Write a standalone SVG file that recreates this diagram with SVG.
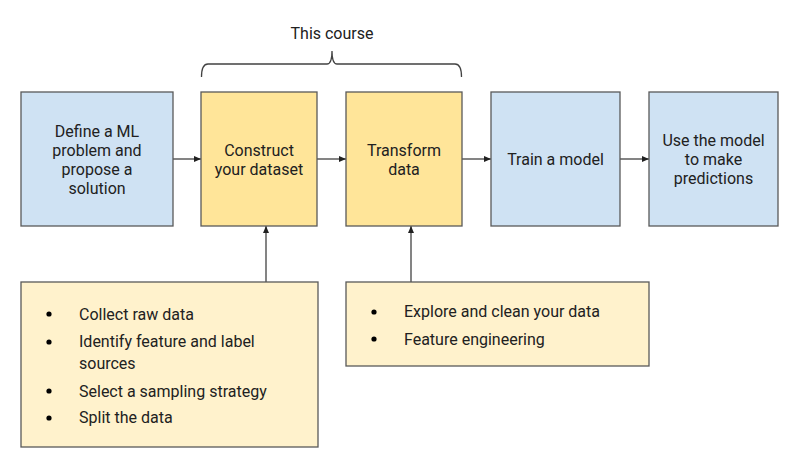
<svg xmlns="http://www.w3.org/2000/svg" width="792" height="456" viewBox="0 0 792 456">
<style>
text{font-family:Roboto,"Liberation Sans",sans-serif;font-size:16px;fill:#212121}
.c{text-anchor:middle}
.box{stroke:#595959;stroke-width:1.3}
.blue{fill:#cfe2f3}
.yel{fill:#ffe599}
.lt{fill:#fff2cc}
.ln{stroke:#424242;stroke-width:1.3;fill:none}
</style>
<defs>
<marker id="ah" markerWidth="8" markerHeight="6" refX="7" refY="3" orient="auto" markerUnits="userSpaceOnUse">
<path d="M0,0 L7,3 L0,6 Z" fill="#212121"/>
</marker>
</defs>
<rect width="792" height="456" fill="#fff"/>
<g id="brace">
<path class="ln" d="M201.5,77 Q201.5,64 208,64 L327,64 Q332,64 332,51 Q332,64 337,64 L455,64 Q461.5,64 461.5,77"/>
<text class="c" x="332" y="39">This course</text>
</g>
<g id="connectors">
<line class="ln" x1="173" y1="159" x2="201" y2="159" marker-end="url(#ah)"/>
<line class="ln" x1="317" y1="159" x2="346" y2="159" marker-end="url(#ah)"/>
<line class="ln" x1="462" y1="159" x2="491" y2="159" marker-end="url(#ah)"/>
<line class="ln" x1="620" y1="159" x2="649" y2="159" marker-end="url(#ah)"/>
<line class="ln" x1="266" y1="282" x2="266" y2="226" marker-end="url(#ah)"/>
<line class="ln" x1="411" y1="282" x2="411" y2="226" marker-end="url(#ah)"/>
</g>
<g id="define">
<rect class="box blue" x="21" y="92" width="152" height="134"/>
<text class="c" x="97" y="137">Define a ML</text>
<text class="c" x="97" y="156">problem and</text>
<text class="c" x="97" y="175">propose a</text>
<text class="c" x="97" y="194">solution</text>
</g>
<g id="construct">
<rect class="box yel" x="201" y="92" width="116" height="134"/>
<text class="c" x="259" y="156">Construct</text>
<text class="c" x="259" y="175">your dataset</text>
</g>
<g id="transform">
<rect class="box yel" x="346" y="92" width="116" height="134"/>
<text class="c" x="404" y="156">Transform</text>
<text class="c" x="404" y="175">data</text>
</g>
<g id="train">
<rect class="box blue" x="491" y="92" width="129" height="134"/>
<text class="c" x="555.5" y="165">Train a model</text>
</g>
<g id="use">
<rect class="box blue" x="649" y="92" width="129" height="134"/>
<text class="c" x="713.5" y="146">Use the model</text>
<text class="c" x="713.5" y="165">to make</text>
<text class="c" x="713.5" y="184">predictions</text>
</g>
<g id="construct-steps">
<rect class="box lt" x="21" y="282" width="297" height="165"/>
<circle cx="49" cy="314" r="2.6" fill="#000"/>
<circle cx="49" cy="342" r="2.6" fill="#000"/>
<circle cx="49" cy="391" r="2.6" fill="#000"/>
<circle cx="49" cy="418" r="2.6" fill="#000"/>
<text x="79" y="320">Collect raw data</text>
<text x="79" y="347">Identify feature and label</text>
<text x="79" y="369">sources</text>
<text x="79" y="397">Select a sampling strategy</text>
<text x="79" y="423">Split the data</text>
</g>
<g id="transform-steps">
<rect class="box lt" x="346" y="282" width="303" height="84"/>
<circle cx="374" cy="312" r="2.6" fill="#000"/>
<circle cx="374" cy="339" r="2.6" fill="#000"/>
<text x="404" y="317">Explore and clean your data</text>
<text x="404" y="345">Feature engineering</text>
</g>
</svg>
